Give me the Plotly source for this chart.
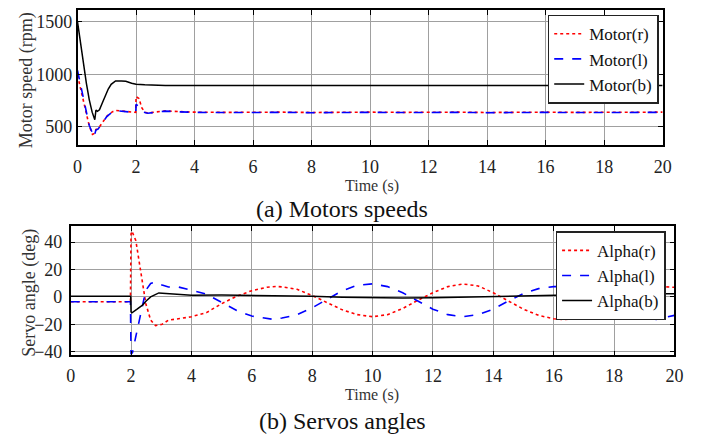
import plotly.graph_objects as go

W, H = 703, 444

# ---------------- (a) Motor speeds ----------------
t_motor_rl = [0.0, 0.1, 0.2, 0.3, 0.4, 0.51, 0.56, 0.63, 0.7, 0.8, 0.9, 1.0, 1.1, 1.2, 1.32, 1.5, 1.7, 1.88, 1.99,
              2.0, 2.1, 2.2, 2.3, 2.4, 2.6, 3.0, 3.5, 4.0, 5.0, 6.0, 7.0, 8.0, 9.0, 10.0, 11.0, 12.0,
              13.0, 14.0, 15.0, 16.0, 17.0, 18.0, 19.0, 20.0]
motor_r = [990, 870, 740, 620, 510, 428, 435, 475, 480, 520, 565, 600, 625, 645, 656, 652, 645, 640, 638,
           788, 770, 680, 640, 632, 640, 652, 645, 640, 638, 642, 640, 637, 641, 640, 638, 641, 640, 637,
           641, 640, 638, 641, 639, 640]
motor_l = [1037, 900, 760, 630, 515, 440, 403, 470, 478, 518, 562, 598, 622, 643, 654, 650, 643, 638, 636,
           715, 695, 660, 636, 630, 638, 650, 643, 638, 636, 640, 638, 635, 639, 638, 636, 639, 638, 635,
           639, 638, 636, 639, 637, 638]

t_motor_b = [0.0, 0.1, 0.2, 0.3, 0.4, 0.5, 0.59, 0.63, 0.68, 0.75, 0.85, 0.95, 1.05, 1.15, 1.3, 1.5, 1.65, 1.85,
             2.0, 2.3, 2.6, 3.0, 5.0, 8.0, 11.0, 14.0, 17.0, 20.0]
motor_b = [1500, 1300, 1100, 920, 760, 640, 568, 660, 648, 662, 730, 800, 860, 905, 937, 936, 935, 915,
           905, 900, 896, 895, 895, 895, 895, 895, 895, 895]

# ---------------- (b) Servo angles ----------------
t_alpha_r = [0.0, 1.98, 2.0, 2.03, 2.16, 2.32, 2.49, 2.65, 2.81, 3.03, 3.24, 3.57, 4.0, 4.5, 5.0, 5.5, 6.0,
             6.5, 6.8, 7.0, 7.5, 8.0, 8.5, 9.0, 9.5, 10.0, 10.5, 11.0, 11.5, 12.0, 12.5, 13.0, 13.5, 14.0,
             14.5, 15.0, 15.5, 16.0, 16.3, 16.5, 17.0, 17.5, 18.0, 18.5, 19.0, 19.5, 20.0]
alpha_r = [-3.6, -3.6, 46, 48, 41, 19, -5, -17, -21, -20, -17, -16, -14.5, -11.5, -5, 0.5, 4.5,
           7, 7.6, 7.3, 5.5, 1, -4.5, -9.5, -13, -14.5, -13, -8.5, -2.5, 3, 7.5, 9.4, 8, 3,
           -3, -9, -13.5, -16, -16.6, -16.3, -12.5, -6, 0, 4, 6.5, 7.5, 7]

t_alpha_l = [0.0, 1.98, 2.0, 2.05, 2.16, 2.27, 2.38, 2.49, 2.65, 2.81, 3.03, 3.24, 3.57, 4.0, 4.5, 5.0, 5.5,
             6.0, 6.5, 6.7, 7.0, 7.5, 8.0, 8.5, 9.0, 9.5, 10.0, 10.5, 11.0, 11.5, 12.0, 12.5, 13.0, 13.5,
             14.0, 14.5, 15.0, 15.5, 16.0, 16.5, 17.0, 17.5, 18.0, 18.5, 19.0, 19.4, 20.0]
alpha_l = [-3.6, -3.6, -42, -40.5, -28.8, -16.8, -4.5, 4.8, 9.8, 10.8, 8.6, 7.2, 7.2, 5, 2, -4, -10,
           -14, -16, -16.4, -15.5, -13, -8, -1.5, 4.5, 8.5, 9.5, 7.5, 3, -3, -9, -13, -14.5, -13,
           -9, -3, 2.5, 6, 7.5, 7.3, 4.5, -0.5, -5.5, -11, -15, -16.4, -13.5]

t_alpha_b = [0.0, 1.99, 2.0, 2.03, 2.2, 2.38, 2.5, 2.65, 2.92, 3.24, 3.68, 4.0, 5.0, 6.0, 7.0, 8.0, 9.0,
             10.0, 11.0, 12.0, 13.0, 14.0, 15.0, 16.0, 17.0, 18.0, 19.0, 20.0]
alpha_b = [0.5, 0.5, -11, -11.7, -9, -6, -3, 0, 2.9, 2.4, 1.2, 1.2, 1.3, 1.2, 1, 0.5, -0.2,
           -0.6, -0.8, -0.7, -0.2, 0.4, 1, 1.5, 1.8, 2, 2.2, 2.2]

x_ticks = list(range(0, 21, 2))
y_ticks_top = [500, 1000, 1500]
y_ticks_bottom = [-40, -20, 0, 20, 40]

FONT = "Liberation Serif, Times New Roman, serif"
RED, BLUE, BLACK = "#ff0000", "#0000ff", "#000000"


def px_x(p):
    return p / W


def px_y(p):
    return 1 - p / H


fig = go.Figure()

# top panel traces
fig.add_trace(go.Scatter(x=t_motor_rl, y=motor_r, name="Motor(r)", mode="lines",
                         line=dict(color=RED, width=1.6, dash="dot"), xaxis="x", yaxis="y", legend="legend"))
fig.add_trace(go.Scatter(x=t_motor_rl, y=motor_l, name="Motor(l)", mode="lines",
                         line=dict(color=BLUE, width=1.6, dash="dash"), xaxis="x", yaxis="y", legend="legend"))
fig.add_trace(go.Scatter(x=t_motor_b, y=motor_b, name="Motor(b)", mode="lines",
                         line=dict(color=BLACK, width=1.5), xaxis="x", yaxis="y", legend="legend"))

# bottom panel traces
fig.add_trace(go.Scatter(x=t_alpha_r, y=alpha_r, name="Alpha(r)", mode="lines",
                         line=dict(color=RED, width=1.6, dash="dot"), xaxis="x2", yaxis="y2", legend="legend2"))
fig.add_trace(go.Scatter(x=t_alpha_l, y=alpha_l, name="Alpha(l)", mode="lines",
                         line=dict(color=BLUE, width=1.6, dash="dash"), xaxis="x2", yaxis="y2", legend="legend2"))
fig.add_trace(go.Scatter(x=t_alpha_b, y=alpha_b, name="Alpha(b)", mode="lines",
                         line=dict(color=BLACK, width=1.5), xaxis="x2", yaxis="y2", legend="legend2"))

axis_common = dict(
    showline=True, linecolor="black", linewidth=1.5, mirror="allticks",
    ticks="inside", ticklen=5, tickwidth=1, tickcolor="black",
    showgrid=True, gridcolor="#a0a0a0", gridwidth=1, zeroline=False,
    tickfont=dict(family=FONT, size=18, color="#222222"),
)

legend_common = dict(
    xanchor="right", yanchor="top",
    bgcolor="white", bordercolor="#222222", borderwidth=1.5,
    font=dict(family=FONT, size=17, color="#111111"), tracegroupgap=0, itemwidth=30,
)

fig.update_layout(
    width=W, height=H,
    margin=dict(l=0, r=0, t=0, b=0),
    paper_bgcolor="white", plot_bgcolor="white",
    font=dict(family=FONT, color="#222222"),
    xaxis=dict(domain=[px_x(74), px_x(671)], range=[0, 20], tickvals=x_ticks, anchor="y",
               ticklabelstandoff=5, **axis_common),
    yaxis=dict(domain=[px_y(147), px_y(10)], range=[330, 1615], tickvals=y_ticks_top, anchor="x",
               **axis_common),
    xaxis2=dict(domain=[px_x(67), px_x(683)], range=[0, 20], tickvals=x_ticks, anchor="y2",
                ticklabelstandoff=3, **axis_common),
    yaxis2=dict(domain=[px_y(361), px_y(230)], range=[-42.7, 51.5], tickvals=y_ticks_bottom, anchor="x2",
                ticklabelstandoff=3, **axis_common),
    legend=dict(x=px_x(667), y=px_y(15), **legend_common),
    legend2=dict(x=px_x(674), y=px_y(235), **legend_common),
)

text_font = dict(family=FONT, size=16, color="#333333")
caption_font = dict(family=FONT, size=24, color="#111111")
annotations = [
    dict(text="Motor speed (rpm)", x=px_x(22), y=px_y(82), textangle=-90, font=dict(text_font, size=18)),
    dict(text="Time (s)", x=px_x(374), y=px_y(189), font=text_font),
    dict(text="(a) Motors speeds", x=px_x(344), y=px_y(212), font=caption_font),
    dict(text="Servo angle (deg)", x=px_x(25), y=px_y(298), textangle=-90, font=dict(text_font, size=18)),
    dict(text="Time (s)", x=px_x(374), y=px_y(401), font=text_font),
    dict(text="(b) Servos angles", x=px_x(344), y=px_y(428), font=caption_font),
]
for a in annotations:
    fig.add_annotation(xref="paper", yref="paper", showarrow=False, xanchor="center", yanchor="middle", **a)

fig.write_html("out.html")
